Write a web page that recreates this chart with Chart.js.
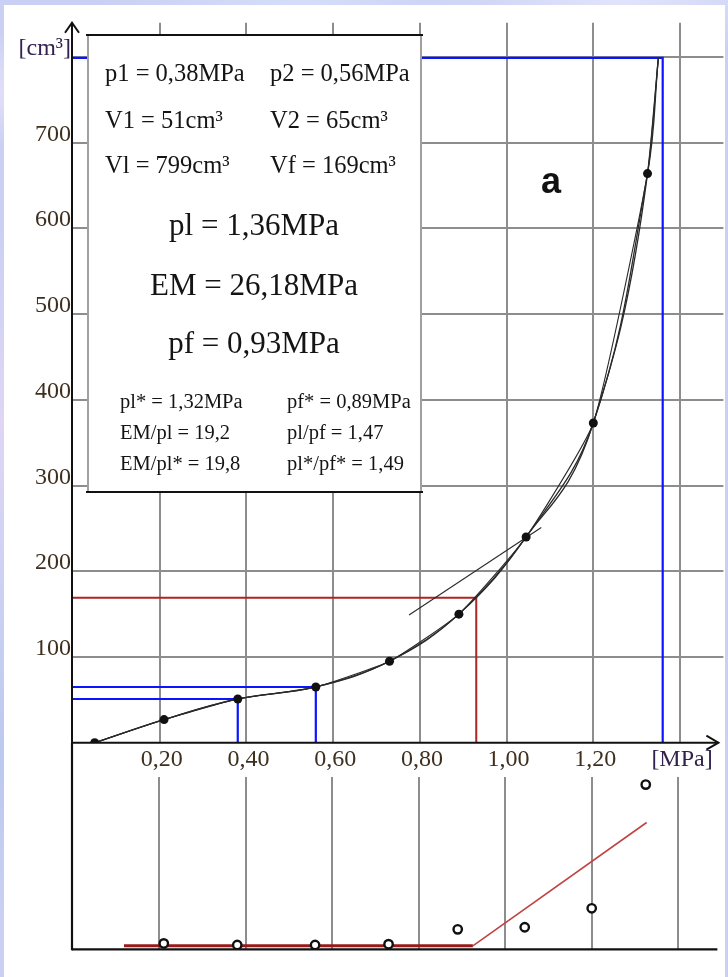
<!DOCTYPE html>
<html>
<head>
<meta charset="utf-8">
<script src="https://cdn.jsdelivr.net/npm/chart.js@4.4.1/dist/chart.umd.min.js"></script>
<style>
    html, body { margin: 0; padding: 0; }
    body {
        width: 728px; height: 977px; position: relative; overflow: hidden;
        background:
            radial-gradient(ellipse 120px 60px at 40px 90px, rgba(236,228,252,0.9), rgba(236,228,252,0)),
            radial-gradient(ellipse 200px 90px at 300px 0px, rgba(214,222,252,0.9), rgba(214,222,252,0)),
            radial-gradient(ellipse 90px 200px at 0px 420px, rgba(226,214,246,0.9), rgba(226,214,246,0)),
            radial-gradient(ellipse 80px 160px at 0px 760px, rgba(188,200,240,0.9), rgba(188,200,240,0)),
            radial-gradient(ellipse 200px 60px at 620px 0px, rgba(228,230,252,0.9), rgba(228,230,252,0)),
            #c9d0f3;
    }
    #panel { position: absolute; left: 4px; top: 5px; width: 721px; height: 972px; background: #fff; }
    canvas { position: absolute; left: 0; }
    #upper { top: 0; }
    #lower { top: 743px; }
</style>
</head>
<body>
<div id="panel"></div>
<canvas id="upper" width="728" height="770"></canvas>
<canvas id="lower" width="728" height="234"></canvas>
<script>
// =============================================================================
// Pressiometerproef - kromme V(p) boven, kruip onder
// =============================================================================

// meetpunten (MPa / cm³)
const pressure = [0.05, 0.21, 0.38, 0.56, 0.73, 0.89, 1.045, 1.20, 1.325];
const volume = [0, 27, 51, 65, 95, 150, 240, 373, 664];

// kromme loopt door tot Vl
const curveP = [...pressure, 1.35];
const curveV = [...volume, 799];

// raaklijn in de buurt van pf
const tangentP = [0.775, 1.08];
const tangentV = [149, 251];

const p1 = 0.38, V1 = 51;
const p2 = 0.56, V2 = 65;
const pf = 0.93, Vf = 169;
const pl = 1.36, Vl = 799;

const xTicks = [0.2, 0.4, 0.6, 0.8, 1.0, 1.2, 1.4];
const xLabels = ['0,20', '0,40', '0,60', '0,80', '1,00', '1,20', '[MPa]'];
const yTicks = [100, 200, 300, 400, 500, 600, 700, 800];
const yLabels = ['100', '200', '300', '400', '500', '600', '700', '[cm³]'];

// kruip (onderste grafiek)
const creepP = pressure.slice(1);
const creepV = [1.7, 1.25, 1.25, 1.5, 5.8, 6.4, 11.9, 47.8];
const creepLineP = [0.118, 0.925, 1.327];
const creepLineV = [1, 1, 36.8];

// tekstvak
const boxTop = [
    ['p1 = 0,38MPa', 'p2 = 0,56MPa'],
    ['V1 = 51cm³', 'V2 = 65cm³'],
    ['Vl = 799cm³', 'Vf = 169cm³']
];
const boxBig = ['pl = 1,36MPa', 'EM = 26,18MPa', 'pf = 0,93MPa'];
const boxSmall = [
    ['pl* = 1,32MPa', 'pf* = 0,89MPa'],
    ['EM/pl = 19,2', 'pl/pf = 1,47'],
    ['EM/pl* = 19,8', 'pl*/pf* = 1,49']
];

const SERIF = '"Liberation Serif", "Times New Roman", serif';
const GRID = '#8d8d8d';
const BLUE = '#0a14ff';
const RED = '#b02424';

const pts = (xs, ys) => xs.map((x, i) => ({ x, y: ys[i] }));

function seg(ctx, x1, y1, x2, y2) {
    ctx.beginPath();
    ctx.moveTo(x1, y1);
    ctx.lineTo(x2, y2);
    ctx.stroke();
}

function lineSet(data, color, width, extra) {
    return Object.assign({
        data,
        showLine: true,
        borderColor: color,
        borderWidth: width,
        pointRadius: 0,
        tension: 0,
        fill: false
    }, extra || {});
}

const upperDecor = {
    id: 'upperDecor',
    afterDatasetsDraw(chart) {
        const ctx = chart.ctx;
        ctx.save();
        // tekstvak
        ctx.fillStyle = '#fff';
        ctx.fillRect(87, 35, 335, 457);
        ctx.strokeStyle = '#a0a0a0';
        ctx.lineWidth = 2;
        seg(ctx, 88, 35, 88, 492);
        seg(ctx, 421, 35, 421, 492);
        ctx.strokeStyle = '#111';
        seg(ctx, 86, 35, 423, 35);
        seg(ctx, 86, 492, 423, 492);

        ctx.fillStyle = '#141414';
        ctx.textBaseline = 'alphabetic';
        ctx.textAlign = 'left';
        ctx.font = '24.5px ' + SERIF;
        [80.5, 127.5, 172.5].forEach((y, i) => {
            ctx.fillText(boxTop[i][0], 105, y);
            ctx.fillText(boxTop[i][1], 270, y);
        });
        ctx.textAlign = 'center';
        ctx.font = '31px ' + SERIF;
        [235, 295, 353].forEach((y, i) => ctx.fillText(boxBig[i], 254, y));
        ctx.textAlign = 'left';
        ctx.font = '20.5px ' + SERIF;
        [408, 439, 470].forEach((y, i) => {
            ctx.fillText(boxSmall[i][0], 120, y);
            ctx.fillText(boxSmall[i][1], 287, y);
        });

        // letter a
        ctx.font = 'bold 36px "Liberation Sans", Arial, sans-serif';
        ctx.textAlign = 'center';
        ctx.fillStyle = '#111';
        ctx.fillText('a', 551, 193);
        ctx.restore();
    },
    afterDraw(chart) {
        const ctx = chart.ctx;
        const xs = chart.scales.x, ys = chart.scales.y;
        const x0 = xs.getPixelForValue(0) - 1;
        const y0 = ys.getPixelForValue(0);
        ctx.save();
        ctx.strokeStyle = '#111';
        ctx.lineWidth = 2;
        // y-as met pijl
        seg(ctx, x0, y0 + 1, x0, ys.top);
        ctx.beginPath();
        ctx.moveTo(x0 - 7, ys.top + 10);
        ctx.lineTo(x0, ys.top);
        ctx.lineTo(x0 + 7, ys.top + 10);
        ctx.stroke();
        // x-as met pijl
        const xEnd = xs.right - 5;
        seg(ctx, x0, y0, xEnd, y0);
        ctx.beginPath();
        ctx.moveTo(xEnd - 12, y0 - 7);
        ctx.lineTo(xEnd, y0);
        ctx.lineTo(xEnd - 12, y0 + 7);
        ctx.stroke();

        // aslabels
        ctx.font = '24px ' + SERIF;
        ctx.textBaseline = 'alphabetic';
        ctx.textAlign = 'right';
        yTicks.forEach((v, i) => {
            ctx.fillStyle = i === yTicks.length - 1 ? '#34224e' : '#3e2f1e';
            ctx.fillText(yLabels[i], 71, ys.getPixelForValue(v) - 2);
        });
        ctx.textAlign = 'center';
        xTicks.forEach((v, i) => {
            ctx.fillStyle = i === xTicks.length - 1 ? '#34224e' : '#3e2f1e';
            ctx.fillText(xLabels[i], xs.getPixelForValue(v) + 2, y0 + 23);
        });
        ctx.restore();
    }
};

const lowerDecor = {
    id: 'lowerDecor',
    afterDraw(chart) {
        const ctx = chart.ctx;
        const xs = chart.scales.x, ys = chart.scales.y;
        const x0 = xs.getPixelForValue(0) - 1;
        const y0 = ys.getPixelForValue(0);
        ctx.save();
        ctx.strokeStyle = '#111';
        ctx.lineWidth = 2.2;
        seg(ctx, x0, 0, x0, y0 + 1);
        seg(ctx, x0, y0, xs.right - 4, y0);
        ctx.restore();
    }
};

function xScale() {
    return {
        type: 'linear',
        min: 0,
        max: 1.5,
        afterBuildTicks: s => { s.ticks = xTicks.map(v => ({ value: v })); },
        ticks: { display: false },
        grid: { color: GRID, lineWidth: 2, drawTicks: false, tickLength: 0 },
        border: { display: false }
    };
}

new Chart(document.getElementById('upper'), {
    type: 'scatter',
    data: {
        datasets: [
            {
                data: pts(pressure, volume),
                pointRadius: 4.5,
                pointBackgroundColor: '#111',
                pointBorderWidth: 0,
                showLine: false
            },
            lineSet(pts(curveP, curveV), '#2a2a2a', 1.3, { tension: 0.4 }),
            lineSet(pts(curveP, curveV), '#2a2a2a', 1.3, { cubicInterpolationMode: 'monotone' }),
            lineSet(pts(curveP, curveV), '#2a2a2a', 1.1, { tension: 0.15 }),
            lineSet(pts(tangentP, tangentV), '#2a2a2a', 1.1),
            lineSet([{ x: 0, y: V1 }, { x: p1, y: V1 }, { x: p1, y: 0 }], BLUE, 2.2),
            lineSet([{ x: 0, y: V2 }, { x: p2, y: V2 }, { x: p2, y: 0 }], BLUE, 2.2),
            lineSet([{ x: 0, y: Vf }, { x: pf, y: Vf }, { x: pf, y: 0 }], RED, 2),
            lineSet([{ x: 0, y: Vl }, { x: pl, y: Vl }, { x: pl, y: 0 }], BLUE, 2.2)
        ]
    },
    options: {
        responsive: false,
        animation: false,
        events: [],
        devicePixelRatio: 1,
        layout: { padding: { left: 73, right: 4.6, top: 22.7, bottom: 27.3 } },
        plugins: { legend: { display: false }, tooltip: { enabled: false } },
        scales: {
            x: xScale(),
            y: {
                type: 'linear',
                min: 0,
                max: 840,
                afterBuildTicks: s => { s.ticks = yTicks.map(v => ({ value: v })); },
                ticks: { display: false },
                grid: { color: GRID, lineWidth: 2, drawTicks: false, tickLength: 0 },
                border: { display: false }
            }
        }
    },
    plugins: [upperDecor]
});

new Chart(document.getElementById('lower'), {
    type: 'scatter',
    data: {
        datasets: [
            {
                data: pts(creepP, creepV),
                pointRadius: 4.2,
                pointBackgroundColor: '#fff',
                pointBorderColor: '#111',
                pointBorderWidth: 2.4,
                showLine: false
            },
            lineSet(pts(creepLineP.slice(0, 2), creepLineV.slice(0, 2)), '#9a1a1a', 3),
            lineSet(pts(creepLineP.slice(1), creepLineV.slice(1)), '#c04444', 1.6)
        ]
    },
    options: {
        responsive: false,
        animation: false,
        events: [],
        devicePixelRatio: 1,
        layout: { padding: { left: 73, right: 4.6, top: 34, bottom: 27.7 } },
        plugins: { legend: { display: false }, tooltip: { enabled: false } },
        scales: {
            x: xScale(),
            y: {
                type: 'linear',
                min: 0,
                max: 50,
                ticks: { display: false },
                grid: { display: false, drawTicks: false, tickLength: 0 },
                border: { display: false }
            }
        }
    },
    plugins: [lowerDecor]
});
</script>
</body>
</html>
